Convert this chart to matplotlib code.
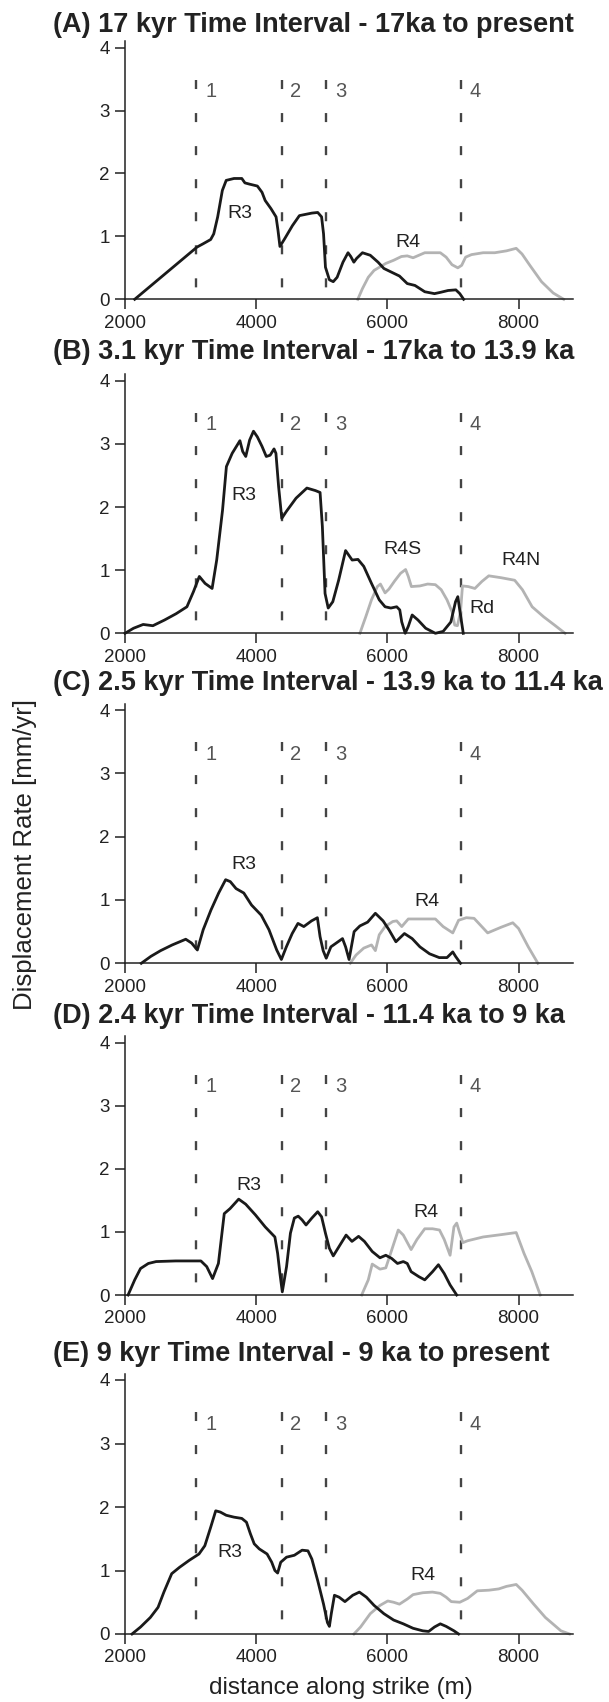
import matplotlib
matplotlib.use("Agg")
import matplotlib.pyplot as plt

# ---------------- data ----------------
titles = [
    "(A) 17 kyr Time Interval - 17ka to present",
    "(B) 3.1 kyr Time Interval - 17ka to 13.9 ka",
    "(C) 2.5 kyr Time Interval - 13.9 ka to 11.4 ka",
    "(D) 2.4 kyr Time Interval - 11.4 ka to 9 ka",
    "(E) 9 kyr Time Interval - 9 ka to present",
]

region_x = [3090, 4390, 5070, 7120]
region_labels = ["1", "2", "3", "4"]

x_ticks = [2000, 4000, 6000, 8000]
y_ticks = [0, 1, 2, 3, 4]

# Panel A
a_r3_x = [2148, 3098, 3187, 3306, 3353, 3413, 3484, 3543, 3662, 3781, 3828, 3899, 4018, 4089, 4137,
          4226, 4303, 4332, 4362, 4433, 4552, 4659, 4849, 4938, 4997, 5027, 5056, 5116, 5175, 5234,
          5323, 5400, 5442, 5489, 5531, 5620, 5739, 5858, 5947, 6065, 6184, 6303, 6421, 6570, 6718,
          6807, 6926, 7044, 7104, 7163]
a_r3_y = [0.0, 0.83, 0.88, 0.95, 1.04, 1.31, 1.73, 1.89, 1.92, 1.92, 1.85, 1.83, 1.80, 1.70, 1.57,
          1.44, 1.31, 1.10, 0.84, 0.96, 1.17, 1.33, 1.37, 1.38, 1.31, 1.04, 0.51, 0.31, 0.28, 0.35,
          0.59, 0.74, 0.68, 0.59, 0.65, 0.74, 0.70, 0.59, 0.49, 0.43, 0.37, 0.25, 0.22, 0.12, 0.09,
          0.11, 0.14, 0.15, 0.09, 0.0]
a_r4_x = [5549, 5620, 5709, 5798, 5976, 6095, 6214, 6303, 6392, 6481, 6570, 6807, 6896, 6985, 7074,
          7133, 7193, 7282, 7460, 7638, 7816, 7964, 8053, 8172, 8350, 8528, 8689]
a_r4_y = [0.0, 0.17, 0.35, 0.46, 0.57, 0.62, 0.68, 0.69, 0.66, 0.70, 0.74, 0.74, 0.67, 0.55, 0.50,
          0.54, 0.67, 0.71, 0.74, 0.74, 0.77, 0.81, 0.72, 0.54, 0.28, 0.10, 0.0]

# Panel B
b_r3_x = [2000, 2130, 2277, 2425, 2602, 2779, 2944, 3044, 3133, 3221, 3328, 3398, 3487, 3546, 3634,
          3752, 3794, 3841, 3900, 3959, 4018, 4089, 4154, 4213, 4272, 4301, 4342, 4390, 4460, 4608,
          4773, 4903, 4974, 5009, 5050, 5098, 5168, 5257, 5363, 5463, 5552, 5640, 5758, 5876, 5965,
          6053, 6142, 6189, 6219, 6272, 6319, 6378, 6467, 6584, 6732, 6850, 6968, 7039, 7074, 7103,
          7157]
b_r3_y = [0.0, 0.08, 0.14, 0.12, 0.21, 0.31, 0.42, 0.66, 0.90, 0.79, 0.71, 1.16, 1.95, 2.64, 2.85,
          3.05, 2.88, 2.80, 3.06, 3.20, 3.11, 2.96, 2.80, 2.82, 2.92, 2.85, 2.32, 1.82, 1.93, 2.14,
          2.30, 2.26, 2.23, 1.69, 0.63, 0.40, 0.50, 0.84, 1.31, 1.16, 1.17, 1.06, 0.79, 0.53, 0.42,
          0.40, 0.42, 0.37, 0.18, 0.0, 0.11, 0.29, 0.21, 0.08, 0.0, 0.03, 0.18, 0.50, 0.58, 0.37,
          0.0]
b_r4_x = [5581, 5670, 5758, 5847, 5894, 5965, 6024, 6112, 6201, 6278, 6319, 6366, 6496, 6614, 6732,
          6821, 6909, 6986, 7027, 7068, 7115, 7145, 7233, 7334, 7440, 7546, 7735, 7941, 8059, 8207,
          8384, 8561, 8709]
b_r4_y = [0.0, 0.26, 0.53, 0.74, 0.78, 0.64, 0.70, 0.83, 0.95, 1.01, 0.90, 0.74, 0.75, 0.78, 0.77,
          0.69, 0.53, 0.34, 0.13, 0.12, 0.34, 0.75, 0.74, 0.71, 0.82, 0.91, 0.88, 0.84, 0.69, 0.42,
          0.26, 0.12, 0.0]

# Panel C
c_r3_x = [2248, 2395, 2543, 2720, 2926, 3015, 3103, 3192, 3310, 3428, 3534, 3605, 3693, 3811, 3929,
          4077, 4195, 4313, 4384, 4460, 4549, 4637, 4726, 4844, 4933, 4974, 5021, 5068, 5139, 5316,
          5363, 5416, 5493, 5581, 5699, 5817, 5935, 6024, 6130, 6260, 6378, 6496, 6643, 6791, 6909,
          6997, 7039, 7115]
c_r3_y = [0.0, 0.11, 0.20, 0.29, 0.38, 0.32, 0.21, 0.53, 0.84, 1.11, 1.32, 1.29, 1.18, 1.11, 0.92,
          0.76, 0.53, 0.21, 0.06, 0.26, 0.47, 0.63, 0.58, 0.67, 0.72, 0.42, 0.20, 0.08, 0.26, 0.39,
          0.26, 0.06, 0.50, 0.59, 0.65, 0.79, 0.67, 0.53, 0.34, 0.47, 0.39, 0.26, 0.15, 0.09, 0.09,
          0.18, 0.11, 0.0]
c_r4_x = [5434, 5522, 5640, 5758, 5817, 5876, 5965, 6083, 6142, 6219, 6319, 6496, 6732, 6850, 6997,
          7086, 7204, 7322, 7529, 7735, 7912, 8000, 8148, 8295]
c_r4_y = [0.0, 0.13, 0.24, 0.29, 0.20, 0.45, 0.58, 0.66, 0.67, 0.58, 0.70, 0.70, 0.70, 0.58, 0.48,
          0.68, 0.72, 0.71, 0.48, 0.57, 0.64, 0.55, 0.26, 0.0]

# Panel D
d_r3_x = [2047, 2148, 2237, 2356, 2475, 2771, 3157, 3246, 3335, 3424, 3513, 3602, 3733, 3840, 3988,
          4137, 4285, 4327, 4362, 4398, 4463, 4522, 4582, 4641, 4700, 4760, 4849, 4938, 4997, 5056,
          5116, 5175, 5264, 5371, 5460, 5561, 5650, 5769, 5887, 5976, 6065, 6154, 6243, 6303, 6362,
          6481, 6570, 6689, 6778, 6867, 6956, 7057]
d_r3_y = [0.0, 0.24, 0.42, 0.50, 0.53, 0.54, 0.54, 0.45, 0.26, 0.50, 1.29, 1.37, 1.52, 1.44, 1.27,
          1.08, 0.92, 0.66, 0.34, 0.05, 0.45, 0.98, 1.22, 1.25, 1.19, 1.11, 1.22, 1.32, 1.24, 0.98,
          0.74, 0.62, 0.77, 0.95, 0.85, 0.93, 0.85, 0.69, 0.59, 0.63, 0.58, 0.50, 0.53, 0.50, 0.37,
          0.29, 0.24, 0.37, 0.48, 0.34, 0.16, 0.0]
d_r4_x = [5608, 5709, 5769, 5828, 5887, 5976, 6065, 6166, 6243, 6362, 6451, 6570, 6689, 6795, 6867,
          6956, 7015, 7057, 7104, 7151, 7223, 7460, 7756, 7964, 8083, 8202, 8320, 8332]
d_r4_y = [0.0, 0.24, 0.49, 0.45, 0.41, 0.43, 0.71, 1.03, 0.95, 0.72, 0.88, 1.05, 1.05, 1.03, 0.88,
          0.63, 1.08, 1.14, 0.98, 0.83, 0.86, 0.92, 0.96, 0.99, 0.66, 0.37, 0.03, 0.0]

# Panel E
e_r3_x = [2107, 2237, 2386, 2504, 2593, 2712, 2831, 2979, 3128, 3217, 3306, 3383, 3454, 3543, 3662,
          3781, 3852, 3911, 3970, 4047, 4166, 4237, 4285, 4327, 4374, 4463, 4582, 4700, 4789, 4849,
          4938, 5027, 5086, 5116, 5145, 5193, 5264, 5353, 5472, 5573, 5680, 5798, 5947, 6095, 6243,
          6392, 6540, 6629, 6718, 6807, 6896, 7015, 7086]
e_r3_y = [0.0, 0.11, 0.26, 0.42, 0.66, 0.95, 1.05, 1.16, 1.26, 1.39, 1.68, 1.94, 1.92, 1.87, 1.84,
          1.82, 1.76, 1.58, 1.42, 1.34, 1.26, 1.13, 1.00, 0.96, 1.13, 1.21, 1.24, 1.32, 1.31, 1.18,
          0.84, 0.47, 0.18, 0.12, 0.32, 0.61, 0.58, 0.51, 0.61, 0.66, 0.58, 0.45, 0.32, 0.22, 0.16,
          0.09, 0.05, 0.04, 0.11, 0.16, 0.12, 0.05, 0.0]
e_r4_x = [5490, 5591, 5739, 5887, 6006, 6095, 6184, 6303, 6392, 6540, 6689, 6807, 6896, 6974, 7104,
          7223, 7371, 7549, 7698, 7816, 7964, 8053, 8231, 8409, 8646, 8777]
e_r4_y = [0.0, 0.11, 0.32, 0.45, 0.52, 0.50, 0.47, 0.55, 0.62, 0.65, 0.66, 0.64, 0.58, 0.51, 0.50,
          0.56, 0.68, 0.69, 0.71, 0.75, 0.78, 0.69, 0.47, 0.26, 0.05, 0.0]

# curve labels per panel: (text, x, y)
labels_a = [("R3", 3751, 1.37), ("R4", 6320, 0.91)]
labels_b = [("R3", 3811, 2.19), ("R4S", 6230, 1.33), ("R4N", 8030, 1.15), ("Rd", 7440, 0.40)]
labels_c = [("R3", 3811, 1.56), ("R4", 6602, 0.97)]
labels_d = [("R3", 3887, 1.74), ("R4", 6587, 1.31)]
labels_e = [("R3", 3600, 1.29), ("R4", 6540, 0.92)]

panels = [
    (a_r3_x, a_r3_y, a_r4_x, a_r4_y, labels_a),
    (b_r3_x, b_r3_y, b_r4_x, b_r4_y, labels_b),
    (c_r3_x, c_r3_y, c_r4_x, c_r4_y, labels_c),
    (d_r3_x, d_r3_y, d_r4_x, d_r4_y, labels_d),
    (e_r3_x, e_r3_y, e_r4_x, e_r4_y, labels_e),
]

# ---------------- layout / style ----------------
W, H = 609, 1702
plt.rcParams["font.family"] = ["Liberation Sans", "DejaVu Sans"]
plt.rcParams["lines.scale_dashes"] = False

fig = plt.figure(figsize=(W / 100, H / 100), dpi=100)

left_px, right_px = 125, 573
y0_px = [299.3, 633.3, 963.3, 1295.0, 1634.0]
y4_px = [47.6, 380.7, 710.0, 1042.7, 1380.0]
title_base_px = [31.7, 359.3, 690.0, 1023.3, 1360.7]
title_left_px = 53
YMAX = 4.1
XMIN, XMAX = 2000, 8830

black = "#1a1a1a"
gray = "#b3b3b3"
dash_col = "#444444"

for i, (rx, ry, gx, gy, labs) in enumerate(panels):
    unit = (y0_px[i] - y4_px[i]) / 4.0
    top_px = y0_px[i] - YMAX * unit
    ax = fig.add_axes([left_px / W, 1 - y0_px[i] / H,
                       (right_px - left_px) / W, (y0_px[i] - top_px) / H])
    ax.set_xlim(XMIN, XMAX)
    ax.set_ylim(0, YMAX)
    for s in ["top", "right"]:
        ax.spines[s].set_visible(False)
    for s in ["left", "bottom"]:
        ax.spines[s].set_linewidth(1.1)
        ax.spines[s].set_color("#222222")
    ax.set_xticks(x_ticks)
    ax.set_yticks(y_ticks)
    ax.tick_params(direction="out", length=7, width=1.1, colors="#222222",
                   labelsize=13.5, pad=4)

    # region dashed lines
    for xv, lab in zip(region_x, region_labels):
        ax.plot([xv, xv], [3.49, 0.0], color=dash_col, lw=1.7,
                dashes=(6.5, 17.3), solid_capstyle="butt", dash_capstyle="butt",
                zorder=1)
        ax.text(xv + 130, 3.30, lab, color="#555555", fontsize=14.5,
                ha="left", va="center")

    ax.plot(gx, gy, color=gray, lw=2.0, zorder=2, clip_on=False)
    ax.plot(rx, ry, color=black, lw=2.0, zorder=3, clip_on=False)

    for t, tx, ty in labs:
        ax.text(tx, ty, t, color="#222222", fontsize=14, ha="center", va="center")

    fig.text(title_left_px / W, 1 - title_base_px[i] / H, titles[i],
             fontsize=19.5, fontweight="bold", color="#222222",
             ha="left", va="baseline")

fig.text(25 / W, 1 - 855 / H, "Displacement Rate [mm/yr]", rotation=90,
         fontsize=18.5, color="#222222", ha="center", va="center")
fig.text(341 / W, 1 - 1688 / H, "distance along strike (m)",
         fontsize=17.5, color="#222222", ha="center", va="center")

fig.savefig("out.png", dpi=100)
